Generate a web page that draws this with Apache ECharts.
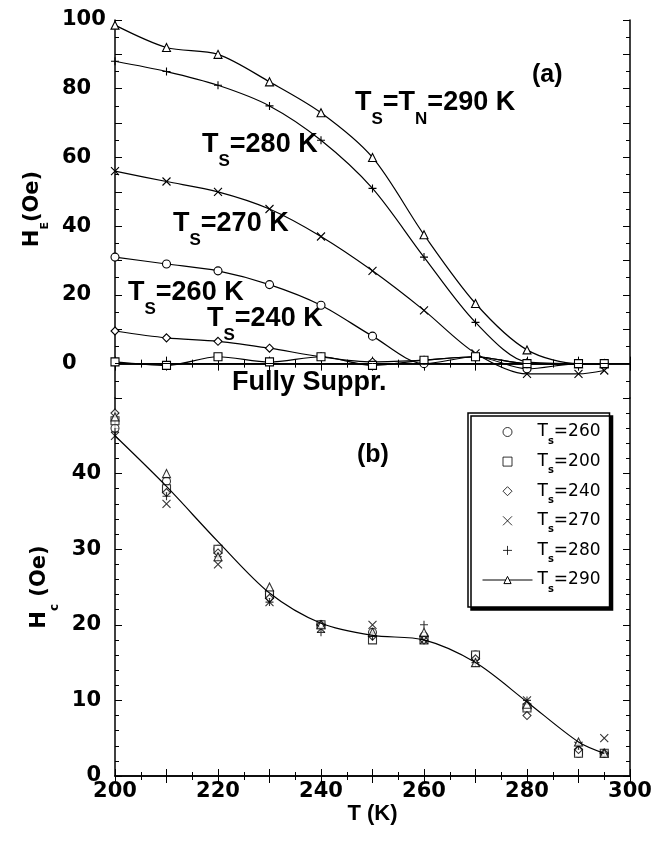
<!DOCTYPE html>
<html>
<head>
<meta charset="utf-8">
<script src="https://cdn.jsdelivr.net/npm/echarts@6/dist/echarts.min.js"></script>
<style>
  html, body { margin: 0; padding: 0; background: #fff; }
  #chart { width: 671px; height: 846px; }
</style>
</head>
<body>
<div id="chart"></div>
<script>
// temperatures of the measurements (K)
const temps = [200, 210, 220, 230, 240, 250, 260, 270, 280, 290, 295];

// panel (a): exchange bias H_E (Oe) for each setting temperature
const heTs290 = [98.5, 92, 90, 82, 73, 60, 37.5, 17.5, 4, 0, 0];
const heTs280 = [88, 85, 81, 75, 65, 51, 31, 12, 0.5, 0, 0];
const heTs270 = [56, 53, 50, 45, 37, 27, 15.5, 3, -3, -3, -2];
const heTs260 = [31, 29, 27, 23, 17, 8, 0, 2, -1.5, 0, 0];
const heTs240 = [9.5, 7.5, 6.5, 4.5, 2, 0.5, 1, 2, 0, 0, 0];
const heTs200 = [0.5, -0.5, 2, 0.5, 2, -0.5, 1, 2, 0, 0, 0];

// panel (b): coercivity H_c (Oe)
const hcTs260 = [46, 39, 30, 24, 20, 19, 18.5, 16, 9, 3, 3];
const hcTs200 = [47, 38, 30, 24, 20, 18, 18, 16, 9, 3, 3];
const hcTs240 = [48, 37.5, 29.5, 23.5, 20, 18.5, 18, 15.5, 8, 3.5, 3];
const hcTs270 = [45, 36, 28, 23, 19.5, 20, 18, 15, 10, 4, 5];
const hcTs280 = [45.5, 37, 29, 23, 19, 18.5, 20, 15, 10, 4, 3];
const hcTs290 = [47.5, 40, 29, 25, 20, 19, 19, 15, 9.5, 4.5, 3];
const hcFit290 = [45, 38.3, 31, 24.2, 20.2, 18.6, 18, 15, 9.8, 4.5, 3];

// tick labels
const xLabels = [200, 220, 240, 260, 280, 300];
const heLabels = [0, 20, 40, 60, 80, 100];
const hcLabels = [0, 10, 20, 30, 40];

// marker shapes (paths keep their aspect in the legend)
const X_MARK = 'path://M0,0L10,10M10,0L0,10';
const PLUS_MARK = 'path://M5,0L5,10M0,5L10,5';
const SQUARE = 'path://M0,0L10,0L10,10L0,10Z';
const DIAMOND = 'path://M5,0L10,5L5,10L0,5Z';
const strokeOnly = [X_MARK, PLUS_MARK];

const pairs = vals => temps.map((t, i) => [t, vals[i]]);

const tickFont = { fontFamily: 'DejaVu Sans', fontWeight: 'bold', color: '#000' };
const black = { color: '#000', width: 1.5 };

function markerStyle(symbol) {
  return {
    color: strokeOnly.includes(symbol) ? '#000' : '#fff',
    borderColor: '#000', borderWidth: 1.1
  };
}

// curves of panel (a)
function heSeries(name, vals, symbol) {
  return {
    type: 'line', name, xAxisIndex: 0, yAxisIndex: 0,
    data: pairs(vals), smooth: 0.3,
    symbol, symbolSize: 8,
    lineStyle: { color: '#000', width: 1.2 },
    itemStyle: markerStyle(symbol)
  };
}

// scattered points of panel (b)
function hcSeries(name, vals, symbol) {
  return {
    type: 'scatter', name, xAxisIndex: 2, yAxisIndex: 2,
    data: pairs(vals), symbol, symbolSize: 8, symbolKeepAspect: true,
    itemStyle: markerStyle(symbol)
  };
}

function xAxisCfg(gridIndex, position, withLabels) {
  return {
    type: 'value', gridIndex, position, min: 200, max: 300, interval: 10,
    axisLine: { lineStyle: black },
    axisTick: { inside: true, length: 7, lineStyle: { color: '#000', width: 1 } },
    minorTick: { show: true, splitNumber: 2, length: 4, lineStyle: { color: '#000', width: 1 } },
    splitLine: { show: false },
    axisLabel: withLabels ? {
      ...tickFont, fontSize: 21, margin: 5,
      formatter: v => (xLabels.includes(v) ? String(v) : '')
    } : { show: false }
  };
}

function yAxisCfg(gridIndex, position, min, max, split, label) {
  return {
    type: 'value', gridIndex, position, min, max, interval: 10,
    axisLine: { lineStyle: black },
    axisTick: { inside: true, length: 7, lineStyle: { color: '#000', width: 1 } },
    minorTick: { show: true, splitNumber: split, length: 4, lineStyle: { color: '#000', width: 1 } },
    splitLine: { show: false },
    axisLabel: label || { show: false }
  };
}

const subName = (size, pad) => ({
  fontFamily: 'DejaVu Sans', fontWeight: 'bold', fontSize: size, lineHeight: 12, padding: [pad, 0, 0, 0]
});

const yTop = yAxisCfg(0, 'left', -10, 100, 2, {
  ...tickFont, fontSize: 21, align: 'left', margin: 53,
  formatter: v => (heLabels.includes(v) ? String(v) : '')
});
yTop.name = 'H{sub|E}(Oe)';
yTop.nameLocation = 'middle';
yTop.nameRotate = 90;
yTop.nameGap = 68;
yTop.nameTextStyle = {
  fontFamily: 'DejaVu Sans', fontWeight: 'bold', fontSize: 21, lineHeight: 24, color: '#000',
  rich: { sub: subName(11, 26) }
};

const yBottom = yAxisCfg(1, 'left', 0, 50, 5, {
  ...tickFont, fontSize: 21, margin: 14,
  formatter: v => (hcLabels.includes(v) ? String(v) : '')
});
yBottom.name = 'H{sub|c} (Oe)';
yBottom.nameLocation = 'middle';
yBottom.nameRotate = 90;
yBottom.nameGap = 56;
yBottom.nameTextStyle = {
  fontFamily: 'DejaVu Sans', fontWeight: 'bold', fontSize: 21, lineHeight: 24, color: '#000',
  rich: { sub: subName(12, 31) }
};

const xBottom = xAxisCfg(1, 'bottom', true);
xBottom.name = 'T (K)';
xBottom.nameLocation = 'middle';
xBottom.nameGap = 26;
xBottom.nameTextStyle = {
  fontFamily: 'Liberation Sans', fontWeight: 'bold', fontSize: 22, lineHeight: 22, color: '#000'
};

// in-plot annotations
const annotSub = {
  fontFamily: 'Liberation Sans', fontWeight: 'bold', fontSize: 17, lineHeight: 18,
  padding: [32, 0, 0, 0], fill: '#000'
};
function annot(text, x, y, size) {
  return {
    type: 'text', x, y, silent: true,
    style: {
      text, fill: '#000', align: 'left', verticalAlign: 'middle',
      fontFamily: 'Liberation Sans', fontWeight: 'bold', fontSize: size || 27, lineHeight: 30,
      rich: { sub: annotSub }
    }
  };
}

const heZero = heSeries('a200', heTs200, SQUARE);
heZero.markLine = {
  silent: true, symbol: 'none', label: { show: false },
  lineStyle: { color: '#000', width: 1, type: 'solid' },
  data: [{ yAxis: 0 }]
};

const fit290 = {
  type: 'line', name: 'T_s=290', xAxisIndex: 2, yAxisIndex: 2,
  data: pairs(hcFit290), smooth: 0.3,
  symbol: 'triangle', showSymbol: false, symbolSize: 8,
  lineStyle: { color: '#000', width: 1.2 },
  itemStyle: { color: '#fff', borderColor: '#000', borderWidth: 1.1 }
};

const chart = echarts.init(document.getElementById('chart'));

chart.setOption({
  animation: false,
  backgroundColor: '#fff',
  grid: [
    { left: 115, top: 20, width: 515, height: 378 },
    { left: 115, top: 398, width: 515, height: 378 }
  ],
  xAxis: [
    xAxisCfg(0, 'bottom', false),
    xAxisCfg(0, 'top', false),
    xBottom,
    xAxisCfg(1, 'top', false)
  ],
  yAxis: [
    yTop,
    yAxisCfg(0, 'right', -10, 100, 2),
    yBottom,
    yAxisCfg(1, 'right', 0, 50, 5)
  ],
  legend: {
    data: ['T_s=260', 'T_s=200', 'T_s=240', 'T_s=270', 'T_s=280', 'T_s=290'],
    orient: 'vertical', left: 468, top: 413,
    itemWidth: 50, itemHeight: 9, itemGap: 1.6,
    symbolKeepAspect: true,
    padding: [5, 9, 13, 14],
    backgroundColor: '#fff', borderColor: '#000', borderWidth: 1.5,
    shadowColor: '#000', shadowOffsetX: 3, shadowOffsetY: 3, shadowBlur: 0,
    selectedMode: false,
    itemStyle: { borderWidth: 1 },
    lineStyle: { width: 1 },
    formatter: name => 'T{sub|s}' + name.slice(3),
    textStyle: {
      fontFamily: 'DejaVu Sans', fontSize: 17, lineHeight: 18, color: '#000',
      rich: { sub: { fontFamily: 'DejaVu Sans', fontWeight: 'bold', fontSize: 10, lineHeight: 10, padding: [18, 0, 0, 0] } }
    }
  },
  graphic: [
    annot('(a)', 532, 75, 25),
    annot('T{sub|S}=T{sub|N}=290 K', 355, 103),
    annot('T{sub|S}=280 K', 202, 145),
    annot('T{sub|S}=270 K', 173, 224),
    annot('T{sub|S}=260 K', 128, 293),
    annot('T{sub|S}=240 K', 207, 319),
    annot('Fully Suppr.', 232, 383),
    annot('(b)', 357, 455, 25)
  ],
  series: [
    heSeries('a290', heTs290, 'triangle'),
    heSeries('a280', heTs280, PLUS_MARK),
    heSeries('a270', heTs270, X_MARK),
    heSeries('a260', heTs260, 'circle'),
    heSeries('a240', heTs240, DIAMOND),
    heZero,
    fit290,
    hcSeries('T_s=260', hcTs260, 'circle'),
    hcSeries('T_s=200', hcTs200, SQUARE),
    hcSeries('T_s=240', hcTs240, DIAMOND),
    hcSeries('T_s=270', hcTs270, X_MARK),
    hcSeries('T_s=280', hcTs280, PLUS_MARK),
    hcSeries('T_s=290 pts', hcTs290, 'triangle')
  ]
});
</script>
</body>
</html>
